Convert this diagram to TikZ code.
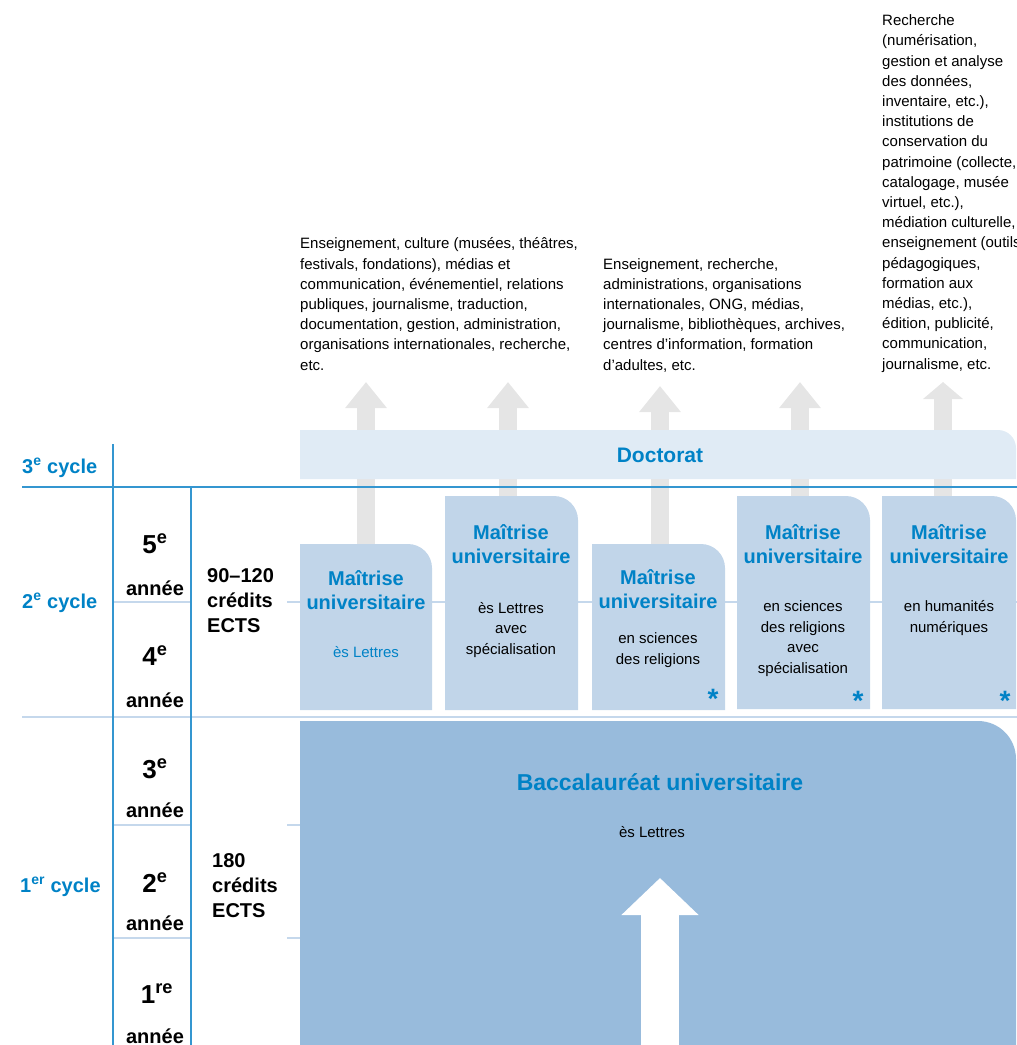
\documentclass[tikz,border=0pt]{standalone}
\usepackage{fontspec}
\setmainfont{Liberation Sans}
\usetikzlibrary{arrows.meta}

\definecolor{ublue}{RGB}{0,130,198}
\definecolor{lineblue}{RGB}{52,150,208}
\definecolor{palecol}{RGB}{197,216,236}
\definecolor{mastfill}{RGB}{193,213,233}
\definecolor{docfill}{RGB}{224,235,245}
\definecolor{bachfill}{RGB}{152,187,220}
\definecolor{arrowgrey}{RGB}{229,229,229}

% box with one rounded corner (top right): colour, x1, ytop, x2, ybottom, radius
\newcommand{\cornerbox}[6]{%
  \fill[#1] (#2,#5) -- (#2,#3) -- ({#4-#6},#3) arc[start angle=90,end angle=0,radius=#6pt] -- (#4,#5) -- cycle;}

\tikzset{
  cyclelabel/.style={anchor=base west, inner sep=0, text=ublue, font=\bfseries\fontsize{20}{24}\selectfont},
  yearnum/.style={anchor=base, inner sep=0, font=\bfseries\fontsize{26}{30}\selectfont},
  yearword/.style={anchor=base, inner sep=0, font=\bfseries\fontsize{20}{24}\selectfont},
  credits/.style={anchor=base west, align=left, inner sep=0, font=\bfseries\fontsize{20}{25}\selectfont},
  degree/.style={anchor=base, align=center, inner sep=0, text=ublue, font=\bfseries\fontsize{20}{24}\selectfont},
  subtitle/.style={anchor=base, align=center, inner sep=0, font=\fontsize{15}{20.5}\selectfont},
  outlook/.style={anchor=base west, align=left, inner sep=0, font=\fontsize{15}{20.2}\selectfont},
  star/.style={anchor=north, inner sep=0, text=ublue, font=\bfseries\fontsize{28}{28}\selectfont},
  greyarrow/.style={draw=arrowgrey, line width=18pt, -{Triangle[width=40pt,length=26pt]}},
  gridline/.style={draw=lineblue, line width=1.6pt},
  paleline/.style={draw=palecol, line width=1.5pt},
}

\begin{document}
\begin{tikzpicture}[x=1pt,y=-1pt]
  \useasboundingbox (0,0) rectangle (1017,1045);

  % outlooks (anchored at the last line)
  \node[outlook] (out1) at (300,370) {Enseignement, culture (musées, théâtres,\\festivals, fondations), médias et\\communication, événementiel, relations\\publiques, journalisme, traduction,\\documentation, gestion, administration,\\organisations internationales, recherche,\\etc.};
  \node[outlook] (out2) at (603,370) {Enseignement, recherche,\\administrations, organisations\\internationales, ONG, médias,\\journalisme, bibliothèques, archives,\\centres d’information, formation\\d’adultes, etc.};
  \node[outlook] (out3) at (882,369) {Recherche\\(numérisation,\\gestion et analyse\\des données,\\inventaire, etc.),\\institutions de\\conservation du\\patrimoine (collecte,\\catalogage, musée\\virtuel, etc.),\\médiation culturelle,\\enseignement (outils\\pédagogiques,\\formation aux\\médias, etc.),\\édition, publicité,\\communication,\\journalisme, etc.};

  % grey arrows from the masters to the outlooks
  \coordinate (m1top) at (366,560);
  \coordinate (m2top) at (508,520);
  \coordinate (m3top) at (660,560);
  \coordinate (m4top) at (800,520);
  \coordinate (m5top) at (943,520);
  \coordinate (g1) at (366,382);
  \coordinate (g2) at (508,382);
  \coordinate (g3) at (660,386);
  \coordinate (g4) at (800,382);
  \coordinate (g5) at (943,382);
  \draw[greyarrow] (m1top) -- (g1);
  \draw[greyarrow] (m2top) -- (g2);
  \draw[greyarrow] (m3top) -- (g3);
  \draw[greyarrow] (m4top) -- (g4);
  \draw[greyarrow, -{Triangle[width=39pt,length=17pt]}] (m5top) -- (g5);

  % doctorat
  \cornerbox{docfill}{300}{430}{1016}{479}{18}
  \node[text=ublue, inner sep=0, font=\bfseries\fontsize{21}{24}\selectfont] (doc) at (660,455) {Doctorat};

  % grid
  \draw[paleline] (287,602) -- (1017,602);
  \draw[paleline] (287,825) -- (300,825);
  \draw[paleline] (287,938) -- (300,938);
  \draw[paleline] (113,602) -- (191,602);
  \draw[paleline] (113,825) -- (191,825);
  \draw[paleline] (113,938) -- (191,938);
  \draw[paleline, line width=2.5pt] (22,717) -- (1017,717);
  \draw[gridline] (22,487) -- (1017,487);
  \draw[gridline] (113,444) -- (113,1045);
  \draw[gridline] (191,487) -- (191,1045);

  % masters (anchored at the last line)
  \cornerbox{mastfill}{300}{544}{432}{710}{24}
  \cornerbox{mastfill}{445}{496}{578}{710}{24}
  \cornerbox{mastfill}{592}{544}{725}{710}{24}
  \cornerbox{mastfill}{737}{496}{870}{709}{24}
  \cornerbox{mastfill}{882}{496}{1016}{709}{24}

  \node[degree] (m1) at (366,609) {Maîtrise\\universitaire};
  \node[subtitle, text=ublue] (m1sub) at (366,657) {ès Lettres};
  \node[degree] (m2) at (511,563) {Maîtrise\\universitaire};
  \node[subtitle] (m2sub) at (511,654) {ès Lettres\\avec\\spécialisation};
  \node[degree] (m3) at (658,608) {Maîtrise\\universitaire};
  \node[subtitle] (m3sub) at (658,664) {en sciences\\des religions};
  \node[degree] (m4) at (803,563) {Maîtrise\\universitaire};
  \node[subtitle] (m4sub) at (803,673) {en sciences\\des religions\\avec\\spécialisation};
  \node[degree] (m5) at (949,563) {Maîtrise\\universitaire};
  \node[subtitle] (m5sub) at (949,632) {en humanités\\numériques};
  \node[star] (s3) at (713,689) {*};
  \node[star] (s4) at (858,691) {*};
  \node[star] (s5) at (1005,691) {*};

  % bachelor
  \cornerbox{bachfill}{300}{721}{1016}{1045}{38}
  \coordinate (bbottom) at (660,1045);
  \coordinate (btip) at (660,878);
  \draw[draw=white, line width=38pt, -{Triangle[width=75pt,length=37pt]}] (bbottom) -- (btip);
  \node[text=ublue, inner sep=0, anchor=base, font=\bfseries\fontsize{23}{26}\selectfont] (bach) at (660,790) {Baccalauréat universitaire};
  \node[subtitle] (bachsub) at (652,837) {ès Lettres};

  % left columns
  \node[cyclelabel] (c3) at (22,473) {3\textsuperscript{e} cycle};
  \node[cyclelabel] (c2) at (22,608) {2\textsuperscript{e} cycle};
  \node[cyclelabel] (c1) at (20,892) {1\textsuperscript{er} cycle};

  \node[yearnum] (y5) at (155,553) {5\textsuperscript{e}};
  \node[yearword] (y5w) at (155,595) {année};
  \node[yearnum] (y4) at (155,665) {4\textsuperscript{e}};
  \node[yearword] (y4w) at (155,707) {année};
  \node[yearnum] (y3) at (155,778) {3\textsuperscript{e}};
  \node[yearword] (y3w) at (155,817) {année};
  \node[yearnum] (y2) at (155,892) {2\textsuperscript{e}};
  \node[yearword] (y2w) at (155,930) {année};
  \node[yearnum] (y1) at (157,1003) {1\textsuperscript{re}};
  \node[yearword] (y1w) at (155,1043) {année};

  \node[credits] (cr2) at (207,632) {90–120\\crédits\\ECTS};
  \node[credits] (cr1) at (212,917) {180\\crédits\\ECTS};
\end{tikzpicture}
\end{document}
